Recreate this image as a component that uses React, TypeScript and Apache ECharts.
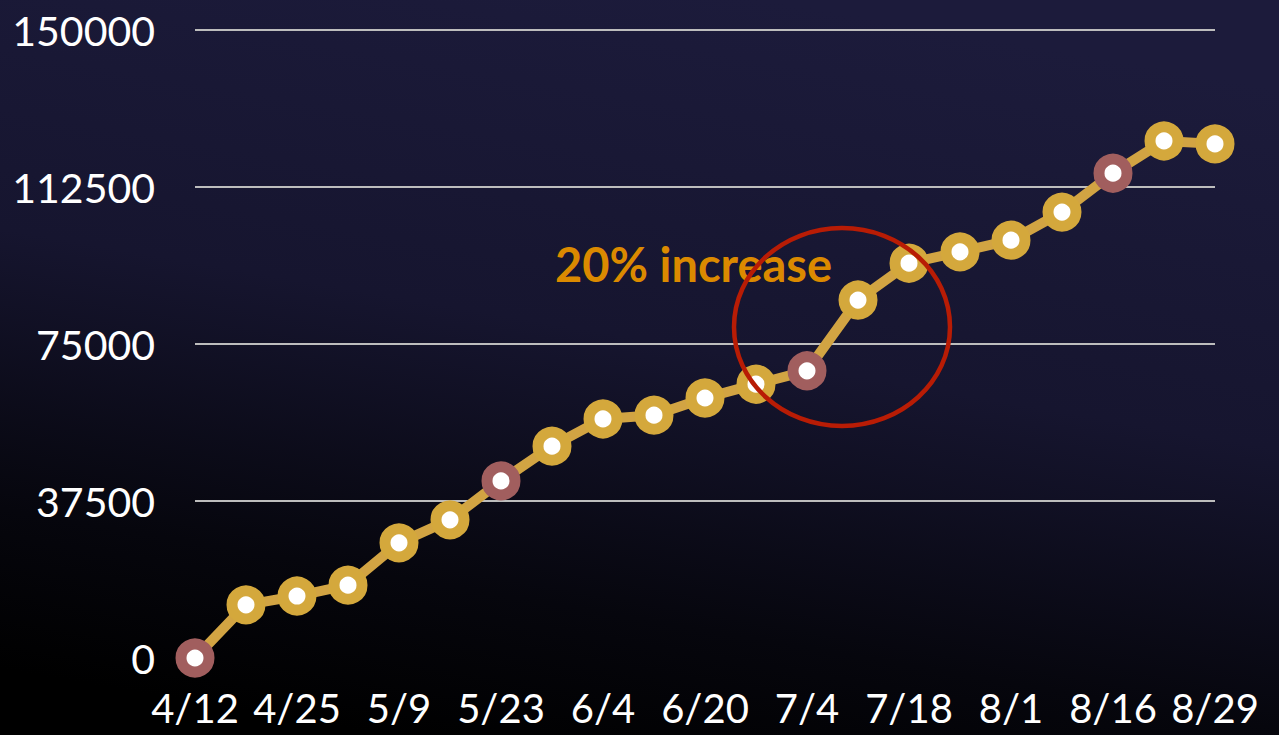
import React, { useEffect, useRef } from "react";
import * as echarts from "echarts";

const categories = [
  "4/12", "4/18", "4/25", "5/2", "5/9", "5/16", "5/23", "5/28", "6/4", "6/12", "6/20",
  "6/27", "7/4", "7/11", "7/18", "7/25", "8/1", "8/8", "8/16", "8/22", "8/29",
];
const values = [
  0, 12700, 14800, 17400, 27500, 33000, 42300, 50600, 57100, 58000, 62100,
  65400, 68600, 85500, 94300, 97000, 99800, 106500, 115800, 123500, 122800,
];
const highlighted = [0, 6, 12, 18];
const yTicks = [0, 37500, 75000, 112500, 150000];
const annotation = "20% increase";

const GOLD = "#D4A83C";
const MAROON = "#A15E5E";

export default function App() {
  const ref = useRef<HTMLDivElement>(null);
  useEffect(() => {
    if (!ref.current) return;
    const chart = echarts.init(ref.current, null, { renderer: "svg" });
    chart.setOption({
      animation: false,
      backgroundColor: {
        type: "linear",
        x: 0.6,
        y: 0,
        x2: 0.3,
        y2: 1,
        colorStops: [
          { offset: 0, color: "#1c1b3b" },
          { offset: 0.45, color: "#16152f" },
          { offset: 0.8, color: "#06060d" },
          { offset: 1, color: "#000000" },
        ],
      },
      grid: { left: 195, right: 64, top: 30, bottom: 77, containLabel: false },
      xAxis: {
        type: "category",
        data: categories,
        boundaryGap: false,
        axisLine: { show: false },
        axisTick: { show: false },
        axisLabel: {
          interval: 1,
          color: "#ffffff",
          fontFamily: "Lato",
          fontSize: 40,
          margin: 30,
        },
        splitLine: { show: false },
      },
      yAxis: {
        type: "value",
        min: yTicks[0],
        max: yTicks[yTicks.length - 1],
        interval: yTicks[1] - yTicks[0],
        axisLine: { show: false },
        axisTick: { show: false },
        axisLabel: {
          color: "#ffffff",
          fontFamily: "Lato",
          fontSize: 41,
          margin: 40,
          formatter: (v: number) => String(v),
        },
        splitLine: {
          show: true,
          showMinLine: false,
          lineStyle: { color: "#bdbdbd", width: 2 },
        },
      },
      series: [
        {
          type: "line",
          data: values.map((v, i) => ({
            value: v,
            itemStyle: highlighted.includes(i)
              ? { color: "#ffffff", borderColor: MAROON, borderWidth: 11 }
              : undefined,
          })),
          symbol: "circle",
          symbolSize: 28,
          showSymbol: true,
          lineStyle: { color: "#D2A443", width: 10 },
          itemStyle: { color: "#ffffff", borderColor: GOLD, borderWidth: 11 },
          z: 3,
        },
      ],
      graphic: [
        {
          type: "text",
          x: 555,
          y: 264,
          z: 10,
          style: {
            text: annotation,
            fill: "#DB8A00",
            font: "bold 47px Lato",
            verticalAlign: "middle",
            align: "left",
          },
        },
        {
          type: "ellipse",
          shape: { cx: 842, cy: 327, rx: 108, ry: 99 },
          z: 10,
          style: { fill: "none", stroke: "#B81C05", lineWidth: 4.5 },
        },
      ],
    });
    return () => chart.dispose();
  }, []);
  return <div ref={ref} style={{ width: 1279, height: 735, position: "absolute", left: 0, top: 0 }} />;
}
